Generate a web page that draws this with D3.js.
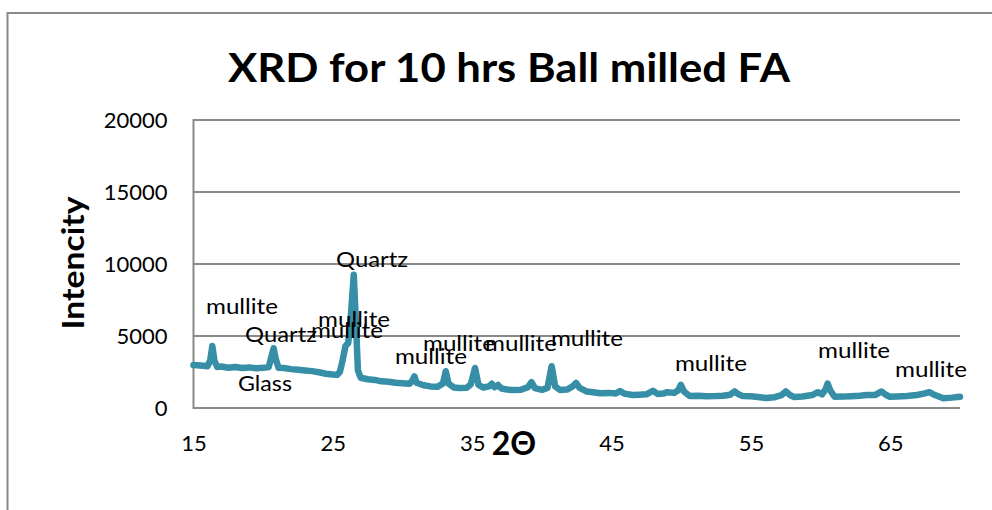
<!DOCTYPE html>
<html><head><meta charset="utf-8">
<script src="https://cdn.jsdelivr.net/npm/d3@7"></script>
<style>body{margin:0;background:#fff}svg{display:block}</style>
</head><body>
<svg id="c" width="992" height="510"></svg>
<script>
const title = "XRD for 10 hrs Ball milled FA";
const xTitle = "2Θ";
const yTitle = "Intencity";
const xTicks = [15, 25, 35, 45, 55, 65];
const yTicks = [0, 5000, 10000, 15000, 20000];
const twoTheta = [15.0,15.5,16.0,16.2,16.35,16.5,16.7,17.0,17.5,18.0,18.5,19.0,19.5,20.0,20.4,20.6,20.75,20.9,21.1,21.5,22.0,22.5,23.0,23.5,24.0,24.5,25.0,25.3,25.5,25.7,25.9,26.1,26.3,26.5,26.65,26.8,27.0,27.5,28.0,28.5,29.0,29.5,30.0,30.5,30.7,30.85,31.0,31.5,32.0,32.5,32.9,33.1,33.3,33.7,34.1,34.6,34.9,35.2,35.45,35.8,36.2,36.4,36.6,36.85,37.1,37.5,37.9,38.5,39.0,39.25,39.5,40.0,40.4,40.7,40.95,41.3,41.8,42.2,42.45,42.7,43.2,43.8,44.2,44.8,45.3,45.6,45.9,46.5,47.0,47.5,47.96,48.3,48.7,49.0,49.5,49.8,49.97,50.2,50.6,51.2,51.8,52.5,53.0,53.5,53.84,54.1,54.4,55.0,55.5,56.1,56.7,57.2,57.5,57.8,58.1,58.7,59.4,59.8,60.1,60.35,60.5,60.7,61.0,61.6,62.2,62.8,63.3,63.9,64.37,64.7,64.96,65.5,66.2,66.9,67.4,67.8,68.2,68.8,69.4,70.0];
const intensity = [2990,2950,2900,3300,4300,3300,2850,2880,2800,2850,2780,2820,2760,2790,2850,3600,4150,3400,2800,2780,2700,2650,2600,2560,2480,2380,2320,2300,2500,3300,4300,4500,6500,9250,6000,2600,2100,2000,1950,1850,1820,1760,1720,1680,1900,2200,1750,1580,1500,1470,1700,2550,1700,1420,1390,1400,1650,2780,1600,1420,1500,1680,1450,1600,1350,1280,1250,1270,1450,1800,1380,1260,1400,2900,1500,1250,1280,1500,1740,1400,1150,1080,1020,1050,1000,1180,1000,900,920,950,1200,980,1000,1100,1050,1250,1600,1150,830,850,820,830,850,920,1150,950,830,820,760,700,750,900,1150,900,760,800,900,1100,950,1300,1700,1200,780,790,820,850,900,900,1150,900,780,800,830,900,1000,1100,900,680,720,780];
const labelText = ["mullite","Quartz","Glass","mullite","mullite","Quartz","mullite","mullite","mullite","mullite","mullite","mullite","mullite"];
const labelX = [18.48,21.28,20.13,26.52,26.01,27.81,32.04,34.05,38.5,43.23,52.13,62.4,67.92];
const labelY = [6530,4580,1180,5625,4860,9790,3060,3960,3960,4300,2570,3470,2150];

const svg = d3.select("#c");
const font = "Lato, 'Open Sans', sans-serif";
const grey = "#898989";
const L = 193.5, R = 960, T = 120, B = 408;
const x = d3.scaleLinear().domain([15, 70]).range([L, R]);
const y = d3.scaleLinear().domain([0, 20000]).range([B, T]);

// outer chart border
svg.append("rect").attr("x", 7.5).attr("y", 13).attr("width", 1100).attr("height", 700)
  .attr("fill", "none").attr("stroke", grey).attr("stroke-width", 2);

// title
svg.append("text").attr("x", 509).attr("y", 82).attr("text-anchor", "middle")
  .attr("font-family", font).attr("font-weight", "bold").attr("font-size", 40)
  .attr("textLength", 562).attr("lengthAdjust", "spacingAndGlyphs").text(title);

// gridlines
svg.append("g").selectAll("line").data(yTicks).join("line")
  .attr("x1", L).attr("x2", R).attr("y1", d => y(d)).attr("y2", d => y(d))
  .attr("stroke", grey).attr("stroke-width", 2);
// left axis line
svg.append("line").attr("x1", L).attr("x2", L).attr("y1", T - 1).attr("y2", B + 1)
  .attr("stroke", grey).attr("stroke-width", 2);

// y axis labels
const yAxis = d3.axisLeft(y).tickValues(yTicks).tickSize(0).tickPadding(26).tickFormat(d3.format("d"));
const gy = svg.append("g").attr("transform", `translate(${L},0)`).call(yAxis);
gy.select(".domain").remove();
gy.selectAll("text").attr("font-family", font).attr("font-size", 22).attr("fill", "#000");

// x axis labels
const xAxis = d3.axisBottom(x).tickValues(xTicks).tickSize(0).tickPadding(27).tickFormat(d3.format("d"));
const gx = svg.append("g").attr("transform", `translate(0,${B})`).call(xAxis);
gx.select(".domain").remove();
gx.selectAll("text").attr("font-family", font).attr("font-size", 22).attr("fill", "#000");

// axis titles
svg.append("text").attr("x", 514).attr("y", 455).attr("text-anchor", "middle")
  .attr("font-family", font).attr("font-weight", "bold").attr("font-size", 32).text(xTitle);
svg.append("text").attr("transform", "translate(84,263) rotate(-90)").attr("text-anchor", "middle")
  .attr("font-family", font).attr("font-weight", "bold").attr("font-size", 30)
  .attr("textLength", 133).attr("lengthAdjust", "spacingAndGlyphs").text(yTitle);

// series
const pts = twoTheta.map((t, i) => [t, intensity[i]]);
svg.append("path").datum(pts)
  .attr("d", d3.line().x(d => x(d[0])).y(d => y(d[1])))
  .attr("fill", "none").attr("stroke", "#368fa7").attr("stroke-width", 6.5)
  .attr("stroke-linejoin", "round").attr("stroke-linecap", "round");

// annotations
const lw = {mullite: 72, Quartz: 72, Glass: 54};
svg.append("g").selectAll("text").data(labelText).join("text")
  .attr("x", (d, i) => x(labelX[i])).attr("y", (d, i) => y(labelY[i]))
  .attr("text-anchor", "middle").attr("font-family", font).attr("font-size", 22)
  .attr("textLength", d => lw[d]).attr("lengthAdjust", "spacingAndGlyphs")
  .text(d => d);
</script>
</body></html>
